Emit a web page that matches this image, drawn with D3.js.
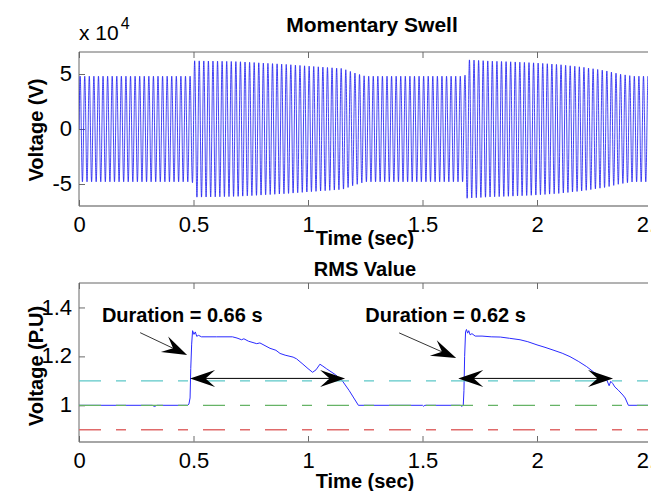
<!DOCTYPE html>
<html>
<head>
<meta charset="utf-8">
<script src="https://d3js.org/d3.v7.min.js"></script>
<style>
    body { margin: 0; background: #fff; }
    text { font-family: "Liberation Sans", Arial, sans-serif; }
</style>
</head>
<body>
<div id="chart"></div>
<script>

// x ticks shared by both panels (sec)
var timeTicks = [0, 0.5, 1, 1.5, 2, 2.5];

// top panel: peak envelope of the 50 Hz voltage (x 10^4 V)
var freqHz = 50;
var envT  = [0, 0.495, 0.5, 0.6, 0.7, 0.8, 0.9, 1.0, 1.1, 1.15, 1.2, 1.25, 1.685, 1.69, 1.8, 1.9, 2.0, 2.1, 2.2, 2.3, 2.36, 2.42, 2.5];
var envPk = [4.8, 4.8, 6.2, 6.17, 6.12, 6.0, 5.88, 5.72, 5.57, 5.5, 5.12, 4.8, 4.8, 6.3, 6.17, 6.1, 6.0, 5.85, 5.62, 5.3, 5.0, 4.8, 4.8];
var swellTicks = [-5, 0, 5];

// bottom panel: RMS value (P.U)
var rmsT = [0, 0.32, 0.33, 0.34, 0.475, 0.48, 0.485, 0.488, 0.492, 0.496, 0.502, 0.508, 0.514, 0.522, 0.535,
    0.6, 0.67, 0.69, 0.71, 0.72, 0.74, 0.776, 0.79, 0.834, 0.86, 0.878, 0.9, 0.935, 0.95, 0.978,
    1.0, 1.02, 1.035, 1.052, 1.065, 1.08, 1.096, 1.12, 1.15, 1.18, 1.2, 1.22,
    1.5, 1.505, 1.51, 1.665, 1.671, 1.678, 1.681, 1.684, 1.688, 1.692, 1.697, 1.702, 1.708, 1.716, 1.73,
    1.76, 1.8, 1.84, 1.88, 1.926, 1.96, 2.0, 2.035, 2.07, 2.11, 2.144, 2.18, 2.217, 2.246, 2.275,
    2.305, 2.315, 2.322, 2.33, 2.34, 2.355, 2.375, 2.385, 2.399, 2.5];
var rmsV = [1.0, 1.0, 0.995, 1.0, 1.0, 1.005, 1.03, 1.15, 1.25, 1.305, 1.29, 1.3, 1.282, 1.286, 1.28,
    1.28, 1.28, 1.275, 1.268, 1.272, 1.262, 1.252, 1.255, 1.233, 1.225, 1.212, 1.205, 1.197, 1.19, 1.168,
    1.15, 1.135, 1.145, 1.168, 1.16, 1.15, 1.14, 1.125, 1.1, 1.06, 1.03, 1.0,
    1.0, 0.996, 1.0, 1.0, 0.996, 1.0, 1.06, 1.2, 1.3, 1.31, 1.295, 1.305, 1.288, 1.293, 1.283,
    1.283, 1.28, 1.279, 1.274, 1.268, 1.26, 1.247, 1.237, 1.226, 1.213, 1.199, 1.18, 1.158, 1.137, 1.12,
    1.103, 1.08, 1.098, 1.09, 1.075, 1.062, 1.042, 1.03, 1.0, 1.0];
var rmsTicks = [1, 1.2, 1.4];

// threshold lines (P.U) and their colours
var limitV = [1.1, 1.0, 0.9];
var limitColor = ["#5cc8c8", "#66b366", "#e06a6a"];

// annotations, in data units of the bottom panel
var durText  = ["Duration = 0.66 s", "Duration = 0.62 s"];
var durTextT = [0.1, 1.25];
var durTextV = [1.34, 1.34];
var ptrFromT = [0.267, 1.398];
var ptrFromV = [1.297, 1.296];
var ptrToT   = [0.472, 1.647];
var ptrToV   = [1.206, 1.193];
var spanT0   = [0.485, 1.656];
var spanT1   = [1.162, 2.332];
var spanV    = 1.11;

var W = 651, H = 491;
var left = 79, right = 651.5, boxRight = 648;

var svg = d3.select("#chart").append("svg")
    .attr("width", W)
    .attr("height", H);
svg.append("rect").attr("width", W).attr("height", H).attr("fill", "#fff");

var x = d3.scaleLinear().domain([0, 2.5]).range([left, right]);
var yTop = d3.scaleLinear().domain([-7, 7]).range([206, 52]);
var yBot = d3.scaleLinear().domain([0.85, 1.5]).range([442, 283]);

// plain hyphen for negatives, like matlab
var fmtNum = function (d) { return d3.format("~g")(d).replace("\u2212", "-"); };

function drawFrame(y, ticksY, clipId) {
    var y0 = y.range()[0], y1 = y.range()[1];

    svg.append("clipPath").attr("id", clipId)
        .append("rect").attr("x", left).attr("y", y1)
        .attr("width", boxRight - left).attr("height", y0 - y1);

    var gb = svg.append("g")
        .attr("transform", "translate(0," + y0 + ")")
        .call(d3.axisBottom(x).tickValues(timeTicks).tickFormat(fmtNum)
            .tickSizeInner(-6).tickSizeOuter(0).tickPadding(10));
    var gt = svg.append("g")
        .attr("transform", "translate(0," + y1 + ")")
        .call(d3.axisTop(x).tickValues(timeTicks).tickFormat("")
            .tickSizeInner(-6).tickSizeOuter(0));
    var gl = svg.append("g")
        .attr("transform", "translate(" + left + ",0)")
        .call(d3.axisLeft(y).tickValues(ticksY).tickFormat(fmtNum)
            .tickSizeInner(-6).tickSizeOuter(0).tickPadding(7));

    [gb, gt, gl].forEach(function (g) {
        g.select(".domain").remove();
        g.selectAll(".tick line").attr("stroke", "#444").attr("stroke-width", 0.8);
        g.selectAll(".tick text").attr("fill", "#000")
            .style("font-size", "22px")
            .style("font-family", "'Liberation Sans', Arial, sans-serif");
    });
    gl.selectAll(".tick text").attr("dy", "0.3em");

    // box (right side is cut off by the picture edge)
    svg.append("line").attr("x1", left).attr("x2", boxRight).attr("y1", y1).attr("y2", y1)
        .attr("stroke", "#666").attr("stroke-width", 1);
    svg.append("line").attr("x1", left).attr("x2", boxRight).attr("y1", y0).attr("y2", y0)
        .attr("stroke", "#888").attr("stroke-width", 1.5);
    svg.append("line").attr("x1", left).attr("x2", left).attr("y1", y1).attr("y2", y0)
        .attr("stroke", "#666").attr("stroke-width", 1);
}

drawFrame(yTop, swellTicks, "clipTop");
drawFrame(yBot, rmsTicks, "clipBot");

// ---- top panel: voltage waveform
var env = d3.scaleLinear().domain(envT).range(envPk);
var wave = [];
var dt = 2e-4;
for (var t = 0; t <= 2.5; t += dt) {
    wave.push([t, env(t) * Math.sin(2 * Math.PI * freqHz * t)]);
}
svg.append("path")
    .datum(wave)
    .attr("clip-path", "url(#clipTop)")
    .attr("fill", "none")
    .attr("stroke", "#1515f0")
    .attr("stroke-width", 0.8)
    .attr("d", d3.line().x(function (d) { return x(d[0]); }).y(function (d) { return yTop(d[1]); }));

svg.append("text").attr("x", 372).attr("y", 32).attr("text-anchor", "middle")
    .style("font-size", "21px").style("font-weight", "bold").text("Momentary Swell");
var mult = svg.append("text").attr("x", left).attr("y", 40).style("font-size", "21px");
mult.append("tspan").text("x 10");
mult.append("tspan").attr("dy", -11).attr("dx", 2).style("font-size", "16px").text("4");
svg.append("text").attr("x", 365).attr("y", 245).attr("text-anchor", "middle")
    .style("font-size", "20px").style("font-weight", "bold").text("Time (sec)");
svg.append("text").attr("transform", "translate(43,130)rotate(-90)").attr("text-anchor", "middle")
    .style("font-size", "20px").style("font-weight", "bold").text("Voltage (V)");

// ---- bottom panel: RMS
var gBot = svg.append("g").attr("clip-path", "url(#clipBot)");

var rmsData = rmsT.map(function (t, i) { return [t, rmsV[i]]; });
gBot.append("path")
    .datum(rmsData)
    .attr("fill", "none")
    .attr("stroke", "#2a2aff")
    .attr("stroke-width", 1)
    .attr("d", d3.line().x(function (d) { return x(d[0]); }).y(function (d) { return yBot(d[1]); }));

// limit lines are drawn over the rms curve
gBot.selectAll("line.limit")
    .data(limitV)
    .enter()
    .append("line")
    .attr("class", "limit")
    .attr("x1", left).attr("x2", right)
    .attr("y1", function (d) { return yBot(d); })
    .attr("y2", function (d) { return yBot(d); })
    .attr("stroke", function (d, i) { return limitColor[i]; })
    .attr("stroke-width", 1.3)
    .attr("stroke-dasharray", "22,15,10,15");

// matlab-like "vback2" arrow head
function headPath(tx, ty, ang) {
    var L = 25, Wd = 8.5, N = 0.62 * L;
    var ux = Math.cos(ang), uy = Math.sin(ang), px = -uy, py = ux;
    var p = [
        [tx, ty],
        [tx - L * ux + Wd * px, ty - L * uy + Wd * py],
        [tx - N * ux, ty - N * uy],
        [tx - L * ux - Wd * px, ty - L * uy - Wd * py]
    ];
    return "M" + p.map(function (q) { return q[0] + "," + q[1]; }).join("L") + "Z";
}

for (var i = 0; i < durText.length; i++) {
    svg.append("text")
        .attr("x", x(durTextT[i])).attr("y", yBot(durTextV[i]))
        .style("font-size", "20px").style("font-weight", "bold")
        .text(durText[i]);

    var ax0 = x(ptrFromT[i]), ay0 = yBot(ptrFromV[i]);
    var ax1 = x(ptrToT[i]), ay1 = yBot(ptrToV[i]);
    var a = Math.atan2(ay1 - ay0, ax1 - ax0);
    svg.append("line").attr("x1", ax0).attr("y1", ay0).attr("x2", ax1 - 15 * Math.cos(a)).attr("y2", ay1 - 15 * Math.sin(a))
        .attr("stroke", "#000").attr("stroke-width", 0.8);
    svg.append("path").attr("d", headPath(ax1, ay1, a)).attr("fill", "#000");

    var sx0 = x(spanT0[i]), sx1 = x(spanT1[i]), sy = yBot(spanV);
    svg.append("line").attr("x1", sx0 + 15).attr("x2", sx1 - 15).attr("y1", sy).attr("y2", sy)
        .attr("stroke", "#000").attr("stroke-width", 1);
    svg.append("path").attr("d", headPath(sx0, sy, Math.PI)).attr("fill", "#000");
    svg.append("path").attr("d", headPath(sx1, sy, 0)).attr("fill", "#000");
}

svg.append("text").attr("x", 365).attr("y", 276).attr("text-anchor", "middle")
    .style("font-size", "20px").style("font-weight", "bold").text("RMS Value");
svg.append("text").attr("x", 365).attr("y", 488).attr("text-anchor", "middle")
    .style("font-size", "20px").style("font-weight", "bold").text("Time (sec)");
svg.append("text").attr("transform", "translate(43,366)rotate(-90)").attr("text-anchor", "middle")
    .style("font-size", "20px").style("font-weight", "bold").text("Voltage (P.U)");

</script>
</body>
</html>
